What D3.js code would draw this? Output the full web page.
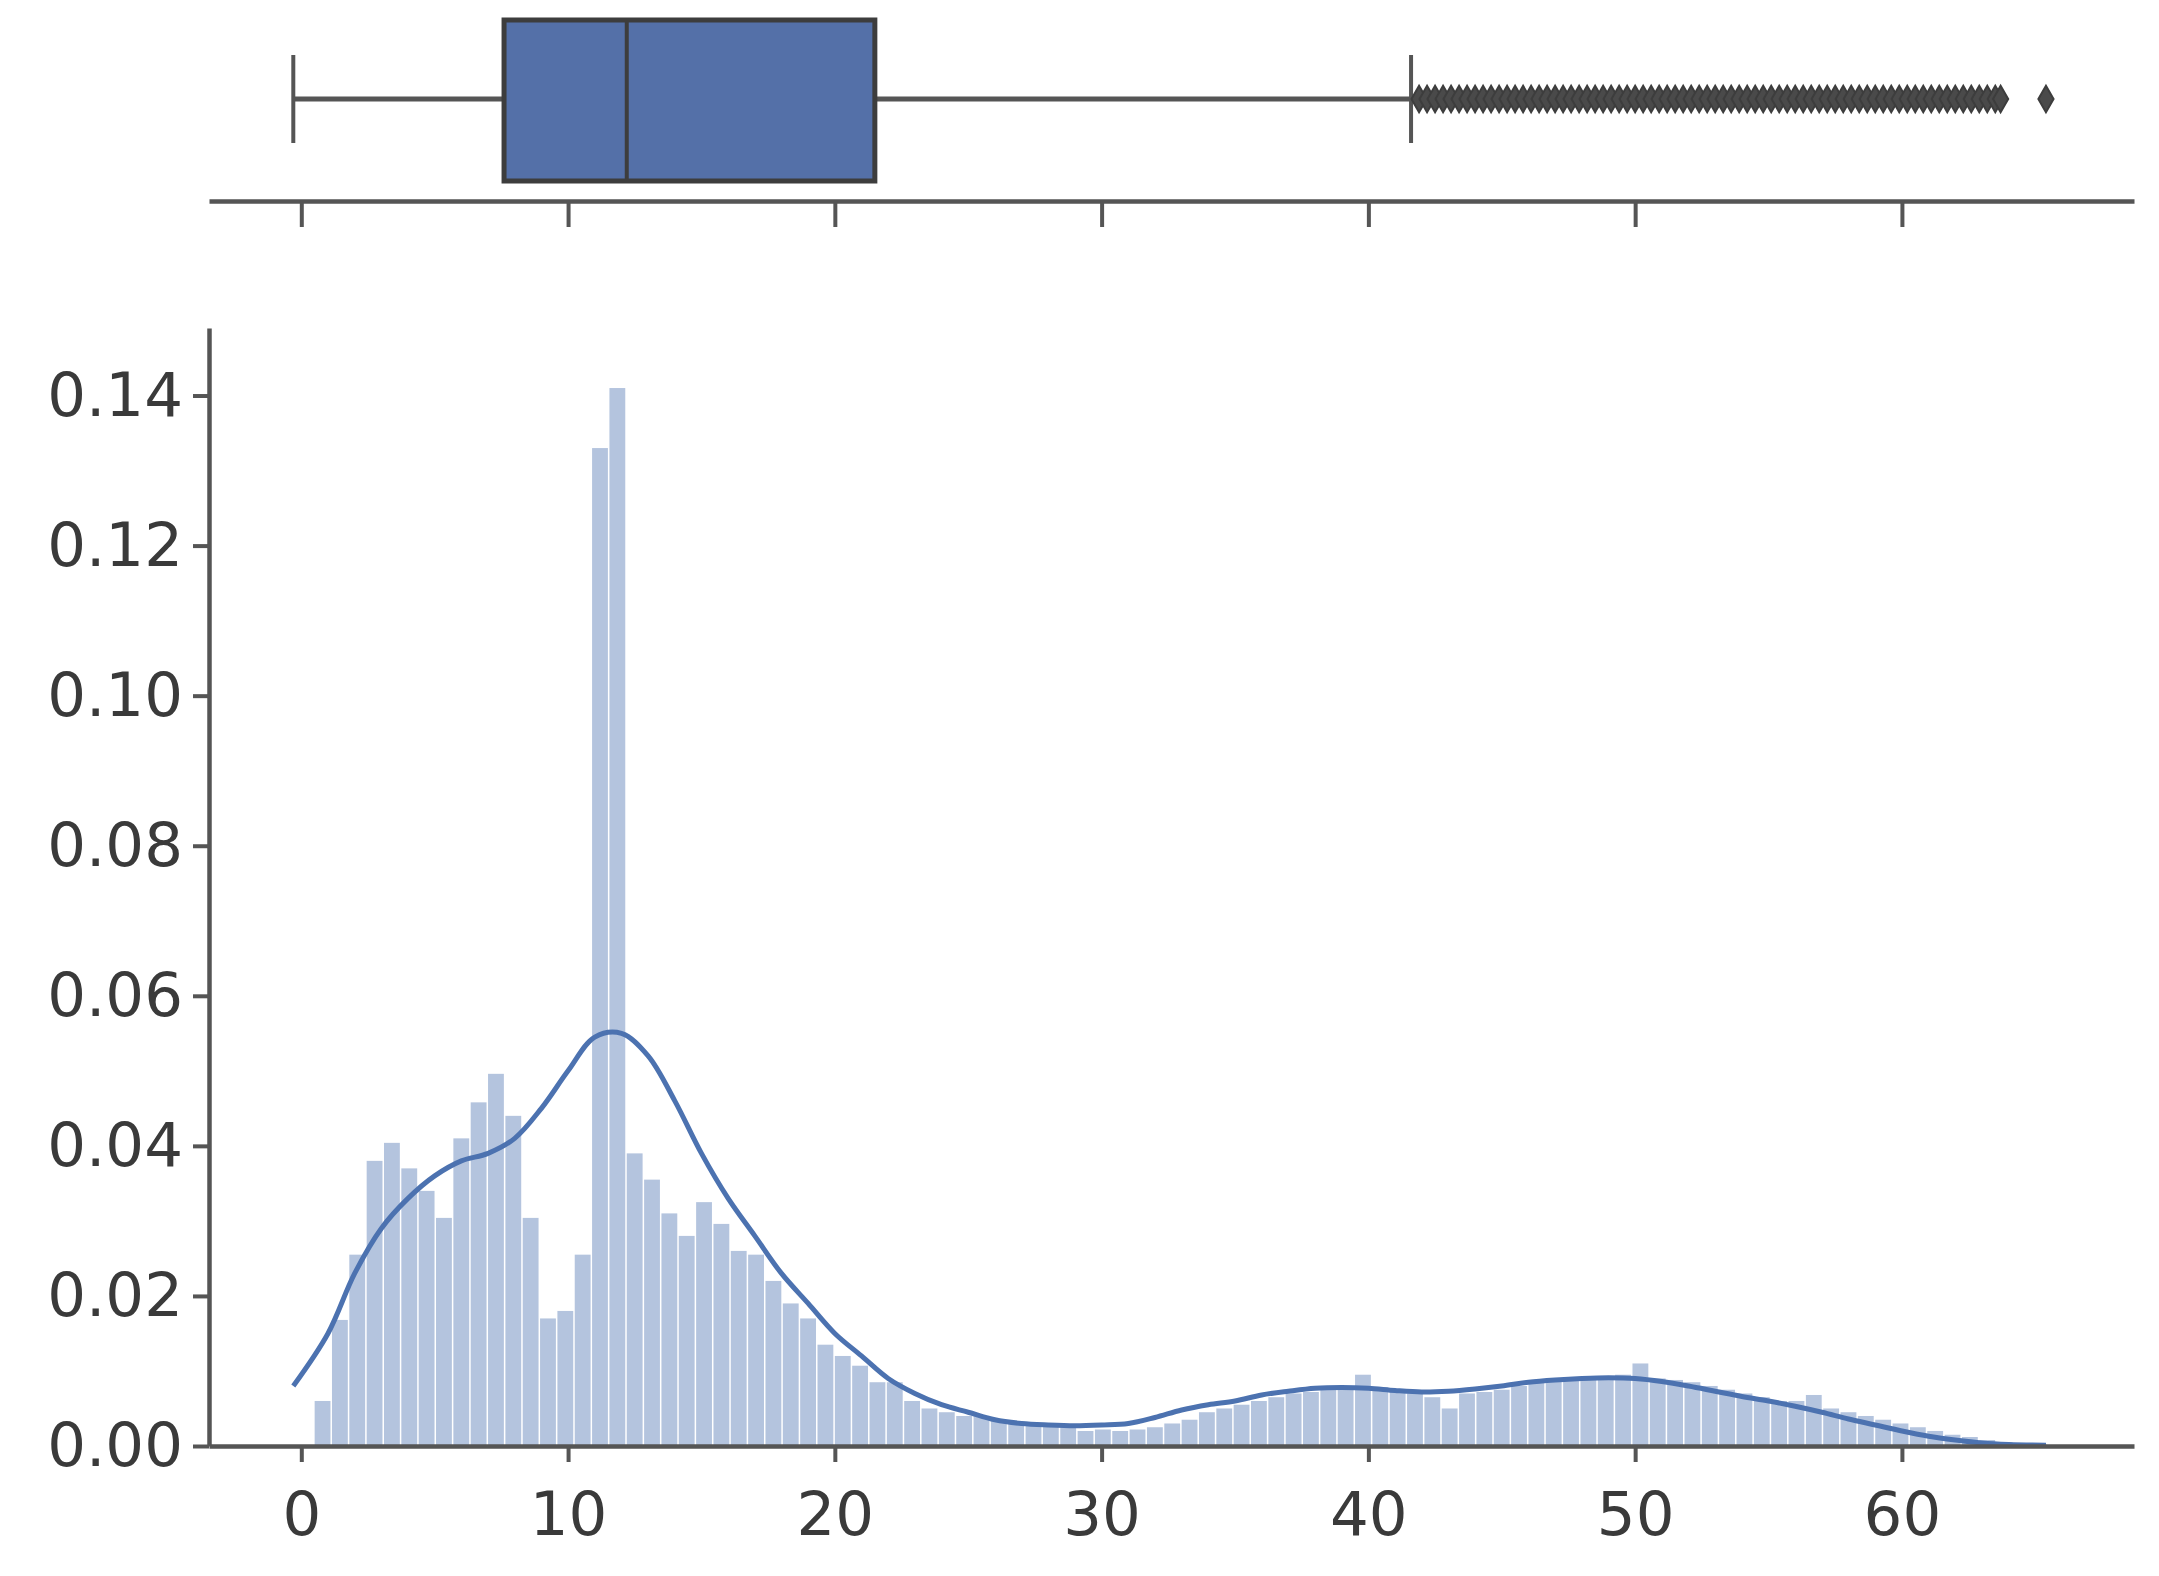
<!DOCTYPE html>
<html>
<head>
<meta charset="UTF-8">
<script src="https://cdn.jsdelivr.net/npm/d3@7"></script>
<style>body{margin:0;background:#fff}</style>
</head>
<body>
<svg></svg>
<script>
	// histogram bins (start 0.5, width 0.65), density values
	var binStart = 0.5, binWidth = 0.65;
	var density = [.006,.0168,.0255,.038,.0404,.037,.034,.0304,.041,.0458,.0496,.044,.0304,.017,.018,.0255,.133,.141,
		.039,.0355,.031,.028,.0325,.0296,.026,.0255,.022,.019,.017,.0135,.012,.0107,.0085,.0085,.006,
		.005,.0045,.004,.004,.0035,.003,.003,.0028,.0025,.002,.0022,.002,.0022,.0025,
		.003,.0035,.0045,.005,.0055,.006,.0065,.007,.0072,.0075,.0078,.0095,.0078,.0075,.007,.0065,.005,
		.007,.0072,.0075,.008,.0085,.0088,.009,.009,.0092,.0095,.011,.009,.0088,.0085,.008,
		.0075,.007,.0065,.006,.006,.0068,.005,.0045,.004,.0035,.003,.0025,.002,.0015,
		.0012,.0008,.0005,.0003,.0002];
	var kdeX = [-0.3,1,2,3,4,5,6,7,8,9,10,11,12,13,14,15,16,17,18,19,20,21,22,23,24,25,26,27,28,29,30,31,32,33,34,35,36,37,38,39,40,41,42,43,44,45,46,47,48,49,50,51,52,53,54,55,56,57,58,59,60,61,62,63,64,65.4];
	var kdeY = [.008,.015,.023,.029,.033,.036,.038,.039,.041,.045,.050,.0545,.055,.052,.046,.039,.033,.028,.023,.019,.015,.012,.009,.007,.0055,.0045,.0035,.003,.0028,.0027,.0028,.003,.0038,.0048,.0055,.006,.0068,.0073,.0077,.0078,.0077,.0074,.0072,.0073,.0076,.008,.0085,.0088,.009,.0091,.009,.0086,.008,.0073,.0066,.006,.0053,.0045,.0036,.0028,.002,.0013,.0008,.0004,.0002,.0001];
	// box plot stats
	var whiskerLow = -0.3, q1 = 7.6, median = 12.2, q3 = 21.5, whiskerHigh = 41.6;
	var outliers = [41.9,42.2,42.5,42.8,43.1,43.4,43.7,44.0,44.3,44.6,44.9,45.2,45.5,45.8,46.1,46.4,46.7,47.0,47.3,47.6,47.9,48.2,48.5,48.8,49.1,49.4,49.7,50.0,50.3,50.6,50.9,51.2,51.5,51.8,52.1,52.4,52.7,53.0,53.3,53.6,53.9,54.2,54.5,54.8,55.1,55.4,55.7,56.0,56.3,56.6,56.9,57.2,57.5,57.8,58.1,58.4,58.7,59.0,59.3,59.6,59.9,60.2,60.5,60.8,61.1,61.4,61.7,62.0,62.3,62.6,62.9,63.2,63.5,63.7,65.4];
	var xTicks = [0,10,20,30,40,50,60];
	var yTicks = [0,0.02,0.04,0.06,0.08,0.10,0.12,0.14];

	var blue = '#4c72b0', axisCol = '#555';
	var svg = d3.select('svg').attr('width', 2159).attr('height', 1576);

	var x = d3.scaleLinear().domain([-3.46, 68.7]).range([209, 2134]);
	var y = d3.scaleLinear().domain([0, 0.149]).range([1446, 328]);

	// histogram
	svg.append('g').selectAll('rect')
		.data(density).enter().append('rect')
		.attr('x', function (d, i) { return x(binStart + i * binWidth); })
		.attr('width', x(binWidth) - x(0) - 1.5)
		.attr('y', function (d) { return y(d); })
		.attr('height', function (d) { return y(0) - y(d); })
		.attr('fill', blue).attr('fill-opacity', 0.42);

	var line = d3.line()
		.x(function (d) { return x(d[0]); })
		.y(function (d) { return y(d[1]); })
		.curve(d3.curveCatmullRom);
	svg.append('path')
		.datum(d3.zip(kdeX, kdeY))
		.attr('fill', 'none').attr('stroke', blue).attr('stroke-width', 5)
		.attr('d', line);

	function styleAxis(g) {
		g.select('.domain').attr('stroke', axisCol).attr('stroke-width', 4.5);
		g.selectAll('.tick line').attr('stroke', axisCol).attr('stroke-width', 4);
		g.selectAll('.tick text').attr('fill', '#3a3a3a').style('font-family', 'DejaVu Sans').style('font-size', '61px');
	}

	svg.append('g').attr('transform', 'translate(0,1446)')
		.call(d3.axisBottom(x).tickValues(xTicks).tickSize(16).tickSizeOuter(0).tickPadding(30).tickFormat(d3.format('d')))
		.call(styleAxis);
	svg.append('g').attr('transform', 'translate(209,0)')
		.call(d3.axisLeft(y).tickValues(yTicks).tickSize(16).tickSizeOuter(0).tickPadding(10).tickFormat(d3.format('.2f')))
		.call(styleAxis);

	// box plot panel
	var by = 99;
	svg.append('g').attr('transform', 'translate(0,201)')
		.call(d3.axisBottom(x).tickValues(xTicks).tickSize(26).tickSizeOuter(0).tickFormat(''))
		.call(styleAxis);

	svg.append('line').attr('x1', x(whiskerLow)).attr('x2', x(q1)).attr('y1', by).attr('y2', by)
		.attr('stroke', axisCol).attr('stroke-width', 5);
	svg.append('line').attr('x1', x(q3)).attr('x2', x(whiskerHigh)).attr('y1', by).attr('y2', by)
		.attr('stroke', axisCol).attr('stroke-width', 5);
	[whiskerLow, whiskerHigh].forEach(function (w) {
		svg.append('line').attr('x1', x(w)).attr('x2', x(w)).attr('y1', 55).attr('y2', 143)
			.attr('stroke', axisCol).attr('stroke-width', 4);
	});
	svg.append('rect').attr('x', x(q1)).attr('width', x(q3) - x(q1)).attr('y', 20).attr('height', 161)
		.attr('fill', '#5470a8').attr('stroke', '#3d3d3d').attr('stroke-width', 5);
	svg.append('line').attr('x1', x(median)).attr('x2', x(median)).attr('y1', 20).attr('y2', 181)
		.attr('stroke', '#3d3d3d').attr('stroke-width', 4);

	svg.append('g').selectAll('path')
		.data(outliers).enter().append('path')
		.attr('transform', function (d) { return 'translate(' + x(d) + ',' + by + ')'; })
		.attr('d', d3.symbol().type(d3.symbolDiamond).size(200))
		.attr('fill', '#4a4a4a').attr('stroke', '#3d3d3d').attr('stroke-width', 2);
</script>
</body>
</html>
